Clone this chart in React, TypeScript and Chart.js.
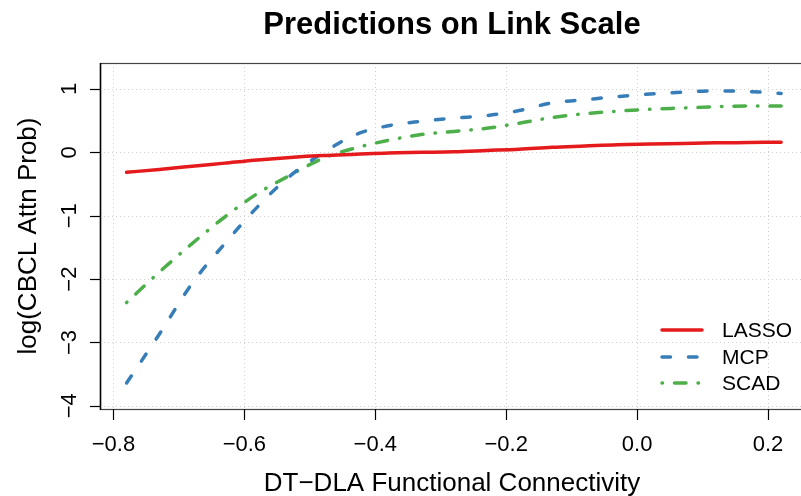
import React, { useEffect, useRef } from "react";
import { Chart, registerables } from "chart.js";

Chart.register(...registerables);

const xValues = [-0.78, -0.73, -0.68, -0.63, -0.58, -0.53, -0.48, -0.43, -0.38, -0.33, -0.28, -0.23, -0.18, -0.13, -0.08, -0.03, 0.02, 0.07, 0.12, 0.17, 0.22];
const lassoValues = [-0.315, -0.27, -0.22, -0.17, -0.12, -0.08, -0.05, -0.03, -0.01, 0.0, 0.01, 0.03, 0.05, 0.08, 0.1, 0.12, 0.13, 0.14, 0.15, 0.155, 0.16];
const mcpValues = [-3.64, -2.87, -2.07, -1.44, -0.86, -0.37, -0.01, 0.28, 0.42, 0.49, 0.54, 0.58, 0.66, 0.78, 0.83, 0.88, 0.92, 0.95, 0.97, 0.96, 0.93];
const scadValues = [-2.37, -1.89, -1.44, -1.02, -0.65, -0.36, -0.095, 0.07, 0.19, 0.28, 0.33, 0.38, 0.46, 0.55, 0.61, 0.65, 0.68, 0.7, 0.72, 0.73, 0.73];

const seriesNames = ["LASSO", "MCP", "SCAD"];
const xTicks = [-0.8, -0.6, -0.4, -0.2, 0.0, 0.2];
const xTickLabels = ["\u22120.8", "\u22120.6", "\u22120.4", "\u22120.2", "0.0", "0.2"];
const yTicks = [-4, -3, -2, -1, 0, 1];
const yTickLabels = ["\u22124", "\u22123", "\u22122", "\u22121", "0", "1"];

const titleText = "Predictions on Link Scale";
const xTitle = "DT\u2212DLA Functional Connectivity";
const yTitle = "log(CBCL Attn Prob)";

const colors = ["#E41A1C", "#377EB8", "#4DAF4A"];
const dashes: number[][] = [[], [8.5, 18], [0.5, 12, 11.5, 12]];
const LW = 3.5;
const FONT = "'Liberation Sans', Arial, Helvetica, sans-serif";

const rPlugin = {
  id: "rStyle",
  beforeDatasetsDraw(chart: any) {
    const { ctx, chartArea: a, scales } = chart;
    const xs = scales.x;
    const ys = scales.y;
    ctx.save();
    ctx.strokeStyle = "#cfcfcf";
    ctx.lineWidth = 1;
    ctx.setLineDash([1, 3]);
    xTicks.forEach((t) => {
      const px = Math.round(xs.getPixelForValue(t)) + 0.5;
      ctx.beginPath();
      ctx.moveTo(px, a.top);
      ctx.lineTo(px, a.bottom);
      ctx.stroke();
    });
    yTicks.forEach((t) => {
      const py = Math.round(ys.getPixelForValue(t)) + 0.5;
      ctx.beginPath();
      ctx.moveTo(a.left, py);
      ctx.lineTo(a.right, py);
      ctx.stroke();
    });
    ctx.restore();
  },
  afterDatasetsDraw(chart: any) {
    const { ctx, chartArea: a, scales } = chart;
    const xs = scales.x;
    const ys = scales.y;
    ctx.save();
    ctx.setLineDash([]);
    // box
    ctx.strokeStyle = "#444";
    ctx.lineWidth = 1.2;
    ctx.strokeRect(a.left + 0.5, a.top + 0.5, a.right - a.left, a.bottom - a.top);
    ctx.strokeStyle = "#000";
    ctx.lineWidth = 1.5;
    ctx.beginPath();
    ctx.moveTo(a.left + 0.5, a.top);
    ctx.lineTo(a.left + 0.5, a.bottom + 1);
    ctx.stroke();
    // ticks
    ctx.strokeStyle = "#000";
    ctx.lineWidth = 1.2;
    xTicks.forEach((t) => {
      const px = Math.round(xs.getPixelForValue(t)) + 0.5;
      ctx.beginPath();
      ctx.moveTo(px, a.bottom);
      ctx.lineTo(px, a.bottom + 11);
      ctx.stroke();
    });
    yTicks.forEach((t) => {
      const py = Math.round(ys.getPixelForValue(t)) + 0.5;
      ctx.beginPath();
      ctx.moveTo(a.left, py);
      ctx.lineTo(a.left - 10, py);
      ctx.stroke();
    });
    // tick labels
    ctx.fillStyle = "#000";
    ctx.font = `22px ${FONT}`;
    ctx.textAlign = "center";
    ctx.textBaseline = "alphabetic";
    xTicks.forEach((t, i) => {
      ctx.fillText(xTickLabels[i], xs.getPixelForValue(t), 451);
    });
    yTicks.forEach((t, i) => {
      ctx.save();
      ctx.translate(76, ys.getPixelForValue(t));
      ctx.rotate(-Math.PI / 2);
      ctx.fillText(yTickLabels[i], 0, 0);
      ctx.restore();
    });
    // titles
    ctx.font = `bold 31px ${FONT}`;
    ctx.fillText(titleText, 452, 34);
    ctx.font = `26px ${FONT}`;
    ctx.fillText(xTitle, 452, 491);
    ctx.save();
    ctx.translate(36, (a.top + a.bottom) / 2);
    ctx.rotate(-Math.PI / 2);
    ctx.fillText(yTitle, 0, 0);
    ctx.restore();
    // legend
    const legY = [330, 357, 383];
    ctx.font = `21px ${FONT}`;
    ctx.textAlign = "left";
    ctx.textBaseline = "middle";
    seriesNames.forEach((name, i) => {
      ctx.save();
      ctx.strokeStyle = colors[i];
      ctx.lineWidth = LW;
      ctx.lineCap = "round";
      ctx.setLineDash(dashes[i]);
      ctx.beginPath();
      ctx.moveTo(662, legY[i]);
      ctx.lineTo(702, legY[i]);
      ctx.stroke();
      ctx.restore();
      ctx.fillStyle = "#000";
      ctx.fillText(name, 722, legY[i] + 1);
    });
    ctx.restore();
  },
};

export default function App() {
  const ref = useRef<HTMLCanvasElement | null>(null);
  useEffect(() => {
    if (!ref.current) return;
    const seriesValues = [lassoValues, mcpValues, scadValues];
    const chart = new Chart(ref.current, {
      type: "line",
      data: {
        datasets: seriesNames.map((name, i) => ({
          label: name,
          data: xValues.map((x, j) => ({ x, y: seriesValues[i][j] })),
          borderColor: colors[i],
          borderWidth: LW,
          borderDash: dashes[i],
          borderCapStyle: "round" as const,
          borderJoinStyle: "round" as const,
          pointRadius: 0,
          fill: false,
          cubicInterpolationMode: "monotone" as const,
        })),
      },
      options: {
        animation: false,
        responsive: false,
        devicePixelRatio: 1,
        layout: { padding: { left: 0, top: 63, right: 14, bottom: 0 } },
        plugins: {
          legend: { display: false },
          title: { display: false },
          tooltip: { enabled: false },
        },
        scales: {
          x: {
            type: "linear",
            min: -0.8206,
            max: 0.258,
            grid: { display: false, drawTicks: false },
            border: { display: false },
            ticks: { display: false },
            afterFit: (s: any) => {
              s.height = 87;
            },
          },
          y: {
            type: "linear",
            min: -4.05,
            max: 1.41,
            grid: { display: false, drawTicks: false },
            border: { display: false },
            ticks: { display: false },
            afterFit: (s: any) => {
              s.width = 100;
            },
          },
        },
      },
      plugins: [rPlugin],
    });
    return () => chart.destroy();
  }, []);
  return (
    <div style={{ position: "fixed", left: 0, top: 0, width: 801, height: 496, overflow: "hidden", background: "#fff" }}>
      <canvas ref={ref} width={820} height={496} style={{ display: "block" }} />
    </div>
  );
}
